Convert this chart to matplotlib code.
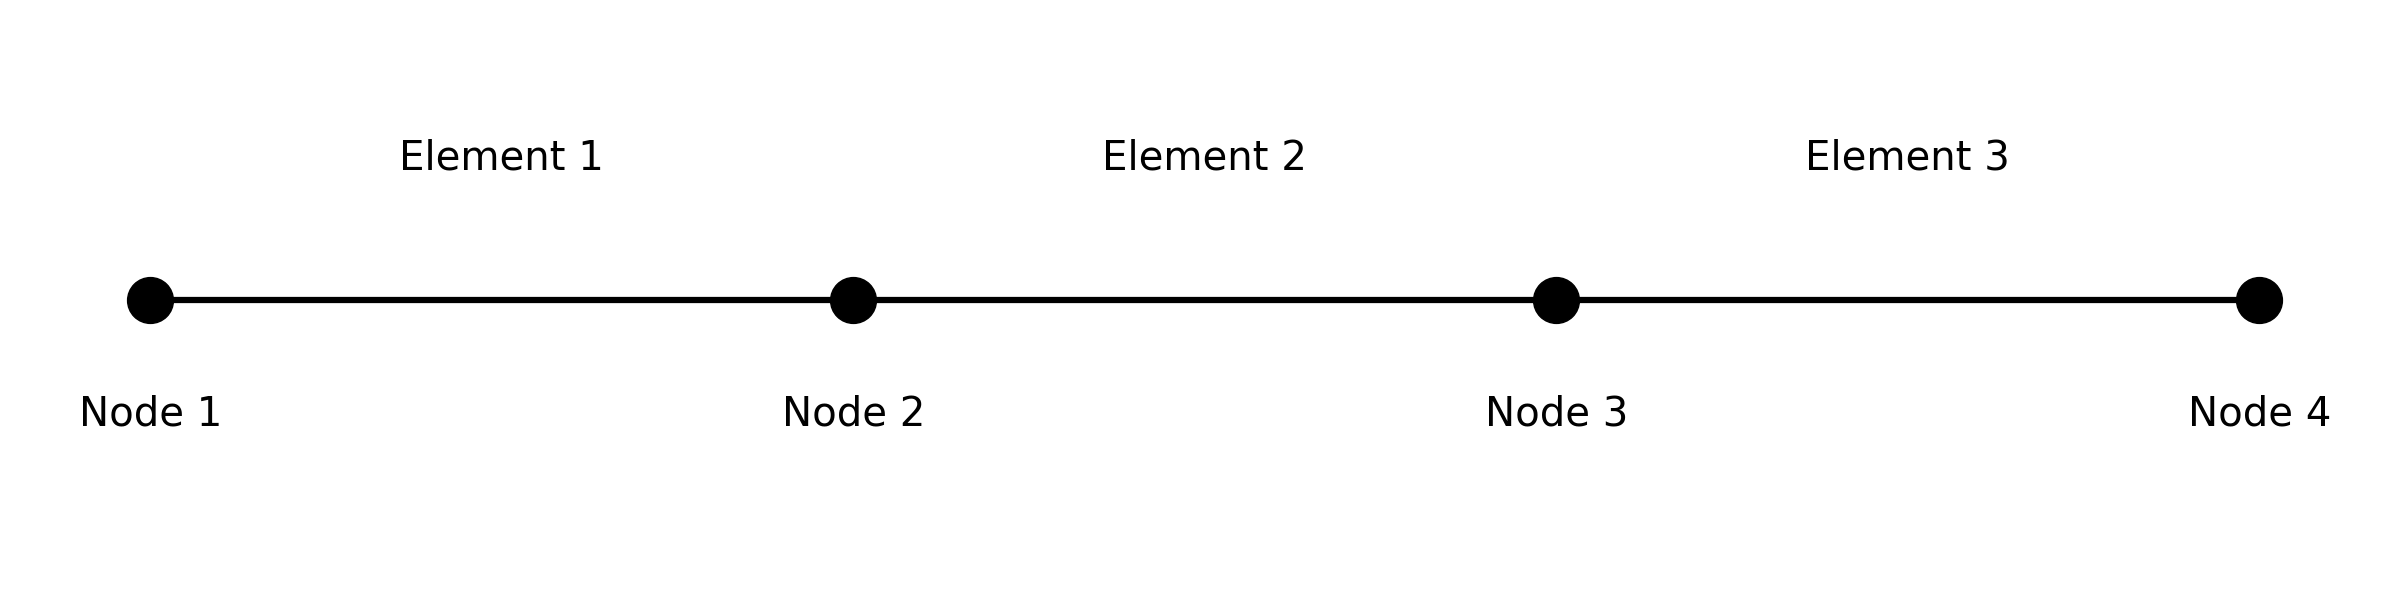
import matplotlib
matplotlib.use("Agg")
import matplotlib.pyplot as plt

node_x = [0, 1, 2, 3]
node_labels = ["Node 1", "Node 2", "Node 3", "Node 4"]
element_labels = ["Element 1", "Element 2", "Element 3"]

fig = plt.figure(figsize=(24, 6), dpi=100)
ax = fig.add_axes([0, 0, 1, 1])

ax.plot(node_x, [0] * len(node_x), color="black", lw=4.5, zorder=1)
ax.plot(node_x, [0] * len(node_x), "o", color="black", ms=33, zorder=2)

for x, lab in zip(node_x, node_labels):
    ax.text(x, -0.38, lab, ha="center", va="center", fontsize=29)
for i, lab in enumerate(element_labels):
    ax.text((node_x[i] + node_x[i + 1]) / 2, 0.47, lab, ha="center", va="center", fontsize=29)

ax.set_xlim(-0.214, 3.2)
ax.set_ylim(-1, 1)
ax.axis("off")
fig.savefig("out.png", dpi=100)
